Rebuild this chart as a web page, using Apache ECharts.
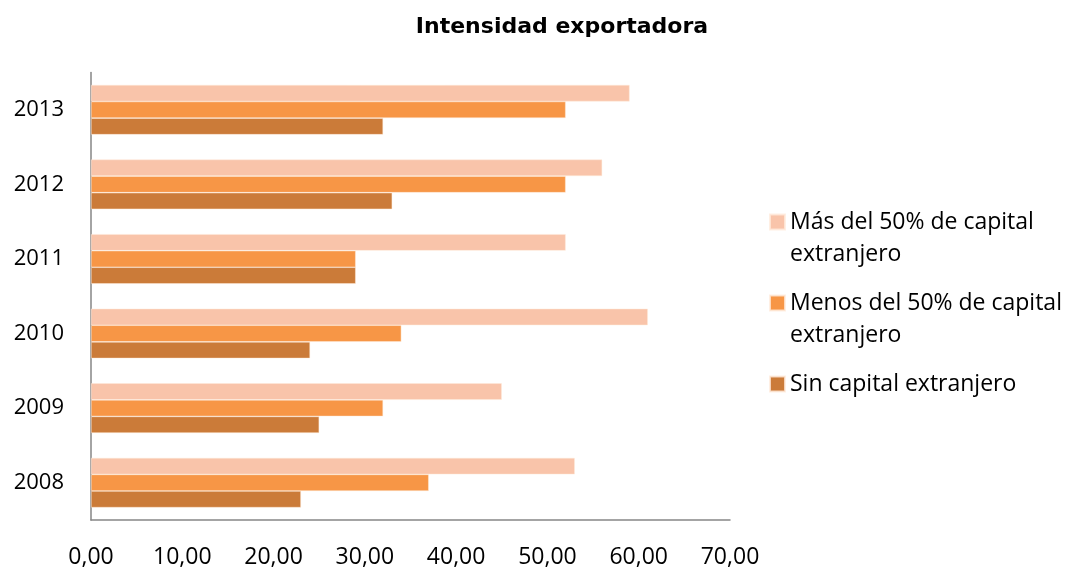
<!DOCTYPE html>
<html>
<head>
<meta charset="utf-8">
<script src="https://cdn.jsdelivr.net/npm/echarts@6/dist/echarts.min.js"></script>
<style>
  html, body { margin: 0; padding: 0; background: #fff; }
  #chart { width: 1070px; height: 569px; }
</style>
</head>
<body>
<div id="chart"></div>
<script>
// Export intensity by share of foreign capital, 2008–2013
const years = ['2008', '2009', '2010', '2011', '2012', '2013'];
const masDel50 = [53.0, 45.0, 61.0, 52.0, 56.0, 59.0];
const menosDel50 = [37.0, 32.0, 34.0, 29.0, 52.0, 52.0];
const sinCapital = [23.0, 25.0, 24.0, 29.0, 33.0, 32.0];
const seriesNames = [
  'Más del 50% de capital\nextranjero',
  'Menos del 50% de capital\nextranjero',
  'Sin capital extranjero'
];
const colors = ['#F9C4AA', '#F79646', '#CB7B39'];

const chart = echarts.init(document.getElementById('chart'), null, { renderer: 'canvas' });

const baseFont = '"Open Sans", "Noto Sans", sans-serif';

function bar(name, data, color) {
  return {
    name: name,
    type: 'bar',
    data: data,
    barGap: '0%',
    barCategoryGap: '33.3%',
    itemStyle: { color: color, borderColor: 'rgba(255,235,220,0.8)', borderWidth: 0.6 },
    emphasis: { disabled: true }
  };
}

chart.setOption({
  animation: false,
  backgroundColor: '#fff',
  title: {
    text: 'Intensidad exportadora',
    left: 562,
    top: 16,
    padding: 0,
    textAlign: 'center',
    textStyle: {
      fontFamily: '"DejaVu Sans", sans-serif',
      fontWeight: 'bold',
      fontSize: 22,
      color: '#000'
    }
  },
  legend: {
    orient: 'vertical',
    left: 769,
    top: 174,
    padding: 0,
    itemWidth: 15,
    itemHeight: 15,
    itemGap: -15,
    icon: 'rect',
    selectedMode: false,
    data: [seriesNames[0], seriesNames[1], seriesNames[2]],
    // a blank leading line keeps each name's first line level with its swatch
    formatter: name => name.indexOf('\n') >= 0 ? '\n' + name : '\n' + name + '\n',
    textStyle: {
      fontFamily: baseFont,
      fontSize: 23,
      lineHeight: 32,
      color: '#000'
    }
  },
  grid: { left: 91, right: 340, top: 72.5, bottom: 46.5, containLabel: false },
  xAxis: {
    type: 'value',
    min: 0,
    max: 70,
    interval: 10,
    axisLine: { show: true, lineStyle: { color: '#868686', width: 1.5 } },
    axisTick: { show: false },
    splitLine: { show: false },
    axisLabel: {
      margin: 26,
      fontFamily: baseFont,
      fontSize: 23,
      color: '#000',
      formatter: v => v.toFixed(2).replace('.', ',')
    }
  },
  yAxis: {
    type: 'category',
    data: years,
    axisLine: { show: true, lineStyle: { color: '#868686', width: 1.5 } },
    axisTick: { show: false },
    splitLine: { show: false },
    axisLabel: {
      margin: 27,
      fontFamily: baseFont,
      fontSize: 22,
      color: '#000'
    }
  },
  series: [
    bar(seriesNames[0], masDel50, colors[0]),
    bar(seriesNames[1], menosDel50, colors[1]),
    bar(seriesNames[2], sinCapital, colors[2])
  ]
});
</script>
</body>
</html>
